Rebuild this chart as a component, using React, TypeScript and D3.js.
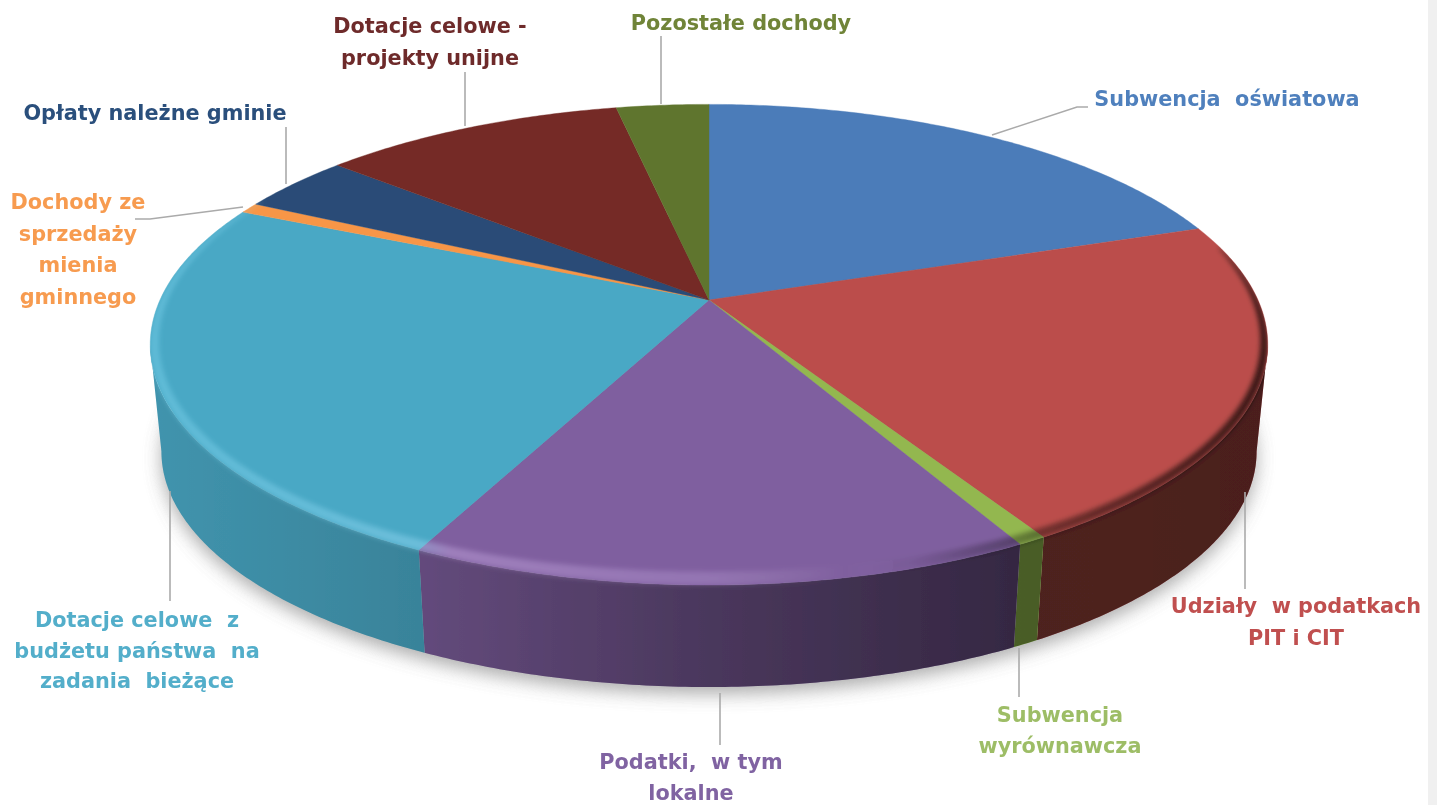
import React from 'react';
import * as d3 from 'd3';

// shares of the budget in percent, clockwise from 12 o'clock
const categories = [
  'Subwencja oświatowa',
  'Udziały w podatkach PIT i CIT',
  'Subwencja wyrównawcza',
  'Podatki, w tym lokalne',
  'Dotacje celowe z budżetu państwa na zadania bieżące',
  'Dochody ze sprzedaży mienia gminnego',
  'Opłaty należne gminie',
  'Dotacje celowe - projekty unijne',
  'Pozostałe dochody',
];
const values = [19.7, 21.7, 0.7, 15.1, 24.4, 0.7, 3.9, 10.5, 3.2];
const colors = ['#4b7cb9', '#bb4e4b', '#93b750', '#7f5f9f', '#49a8c5', '#f79646', '#2a4c77', '#742a25', '#5f752e'];
const sideColors = ['#4b7cb9', '#bb4e4b', '#adde5c', '#7f5f9f', '#49a8c5', '#f79646', '#2a4c77', '#742a25', '#5f752e'];
const labelColors = ['#4f80bd', '#c0504f', '#9dbd66', '#8064a2', '#52aeca', '#f79b50', '#2b4f7c', '#6e2c2c', '#6f8438'];

const labelLines = [
  ['Subwencja  oświatowa'],
  ['Udziały  w podatkach', 'PIT i CIT'],
  ['Subwencja', 'wyrównawcza'],
  ['Podatki,  w tym', 'lokalne'],
  ['Dotacje celowe  z', 'budżetu państwa  na', 'zadania  bieżące'],
  ['Dochody ze', 'sprzedaży', 'mienia', 'gminnego'],
  ['Opłaty należne gminie'],
  ['Dotacje celowe -', 'projekty unijne'],
  ['Pozostałe dochody'],
];

// layout: label centre x, first baseline, line step and the leader polyline
const labelLayout = [
  { x: 1227, y: 106, step: 0, leader: [[992, 135], [1077, 107], [1088, 107]] },
  { x: 1296, y: 613, step: 32, leader: [[1245, 492], [1245, 589]] },
  { x: 1060, y: 722, step: 31, leader: [[1019, 648], [1019, 697]] },
  { x: 691, y: 769, step: 31, leader: [[720, 693], [720, 745]] },
  { x: 137, y: 627, step: 30.5, leader: [[170, 491], [170, 601]] },
  { x: 78, y: 209, step: 31.7, leader: [[135, 219], [150, 219], [243, 207]] },
  { x: 155, y: 120, step: 0, leader: [[286, 127], [286, 184]] },
  { x: 430, y: 33, step: 32, leader: [[465, 72], [465, 126]] },
  { x: 741, y: 30, step: 0, leader: [[661, 36], [661, 104]] },
];

const width = 1437;
const height = 805;
const cx = 709;
const cy = 300;
const rx = 549;
const ry = 232;
const tilt = 0.186; // perspective of the disc
const depth = 107.7;
const bottomScale = 0.98;

// the wall is only seen between the two silhouette angles
const wallStart = Math.acos(-tilt);
const wallEnd = 2 * Math.PI - wallStart;

type Pt = [number, number];

function project(theta: number, r = 1, bottom = false): Pt {
  const u = Math.sin(theta) * r;
  const v = Math.cos(theta) * r;
  const w = 1 + tilt * v;
  const s = bottom ? bottomScale : 1;
  return [cx + (s * rx * u) / w, cy + (bottom ? depth : 0) - (s * ry * v) / w];
}

function sampleAngles(a0: number, a1: number): number[] {
  const n = Math.max(2, Math.ceil((a1 - a0) / 0.01));
  return d3.range(n + 1).map(i => a0 + ((a1 - a0) * i) / n);
}

const line = d3.line<Pt>().x(d => d[0]).y(d => d[1]);
const closed = (pts: Pt[]) => `${line(pts)}Z`;

const pie = d3.pie<number>().sort(null).startAngle(0).endAngle(2 * Math.PI);
const arcs = pie(values);

const topPath = (a0: number, a1: number) =>
  closed([[cx, cy] as Pt, ...sampleAngles(a0, a1).map(t => project(t))]);

const sidePath = (a0: number, a1: number) => {
  const from = Math.max(a0, wallStart);
  const to = Math.min(a1, wallEnd);
  if (to <= from) return '';
  const angles = sampleAngles(from, to);
  return closed([...angles.map(t => project(t)), ...angles.slice().reverse().map(t => project(t, 1, true))]);
};

// bevel along the front edge of the disc, tapered at both ends
const bevelStart = (76 * Math.PI) / 180;
const bevelEnd = (298 * Math.PI) / 180;
const bevelPath = () => {
  const angles = sampleAngles(bevelStart, bevelEnd);
  const inner = angles.map(t => {
    const [x, y] = project(t);
    const dist = Math.hypot(x - cx, y - cy);
    const phase = Math.sin((Math.PI * (t - bevelStart)) / (bevelEnd - bevelStart));
    const taper = Math.pow(Math.max(0, phase), 0.4);
    return project(t, 1 - (11 * taper) / dist);
  });
  return closed([...angles.map(t => project(t)), ...inner.reverse()]);
};

const fullOutline = (bottom: boolean) =>
  closed(sampleAngles(0, 2 * Math.PI).map(t => project(t, 1, bottom)));

const sideStops = [
  [0, 0.12],
  [0.24, 0.22],
  [0.5, 0.42],
  [0.77, 0.58],
  [1, 0.6],
];

const App = () => (
  <svg
    width={width}
    height={height}
    viewBox={`0 0 ${width} ${height}`}
    style={{ position: 'absolute', left: 0, top: 0, display: 'block', background: '#fff' }}
  >
    <defs>
      <filter id="soft" x="-5%" y="-5%" width="110%" height="110%">
        <feGaussianBlur stdDeviation="0.65" />
      </filter>
      <filter id="shadowBlur" x="-10%" y="-20%" width="120%" height="140%">
        <feGaussianBlur stdDeviation="9" />
      </filter>
      <filter id="bevelBlur" x="-5%" y="-5%" width="110%" height="110%">
        <feGaussianBlur stdDeviation="2.8" />
      </filter>
      <linearGradient id="sideShade" gradientUnits="userSpaceOnUse" x1={150} x2={1270} y1={0} y2={0}>
        {sideStops.map(([o, a]) => (
          <stop key={o} offset={o} stopColor="#000" stopOpacity={a} />
        ))}
      </linearGradient>
      <linearGradient id="bevelShade" gradientUnits="userSpaceOnUse" x1={150} x2={1270} y1={0} y2={0}>
        <stop offset={0} stopColor="#8fe6ff" stopOpacity={0.3} />
        <stop offset={0.24} stopColor="#a8e4ff" stopOpacity={0.36} />
        <stop offset={0.27} stopColor="#e6c8ff" stopOpacity={0.3} />
        <stop offset={0.5} stopColor="#e6c8ff" stopOpacity={0.2} />
        <stop offset={0.62} stopColor="#fff" stopOpacity={0} />
        <stop offset={0.68} stopColor="#000" stopOpacity={0.05} />
        <stop offset={0.8} stopColor="#000" stopOpacity={0.4} />
        <stop offset={1} stopColor="#000" stopOpacity={0.7} />
      </linearGradient>
      <clipPath id="discClip">
        <path d={fullOutline(false)} />
        {arcs.map((a, i) => (
          <path key={i} d={sidePath(a.startAngle, a.endAngle)} />
        ))}
      </clipPath>
    </defs>

    <rect x={1428} y={0} width={9} height={height} fill="#f0f0f0" />

    <g filter="url(#soft)">
      <path
        d={fullOutline(true)}
        transform="translate(0,7)"
        fill="#777"
        opacity={0.6}
        filter="url(#shadowBlur)"
      />

      {/* side wall */}
      {arcs.map((a, i) => (
        <g key={i}>
          <path d={sidePath(a.startAngle, a.endAngle)} fill={sideColors[i]} />
          <path d={sidePath(a.startAngle, a.endAngle)} fill="url(#sideShade)" />
        </g>
      ))}

      {/* top of the disc */}
      {arcs.map((a, i) => (
        <path key={i} d={topPath(a.startAngle, a.endAngle)} fill={colors[i]} stroke={colors[i]} strokeWidth={0.4} />
      ))}

      <g clipPath="url(#discClip)">
        <path d={bevelPath()} fill="url(#bevelShade)" filter="url(#bevelBlur)" />
      </g>

      {/* leaders */}
      {labelLayout.map((l, i) => (
        <path key={i} d={line(l.leader as Pt[]) ?? ''} fill="none" stroke="#aaa" strokeWidth={1.6} />
      ))}

      {/* labels */}
      {labelLines.map((lines, i) => (
        <text
          key={categories[i]}
          textAnchor="middle"
          fontFamily="'DejaVu Sans', sans-serif"
          fontWeight="bold"
          fontSize={20.8}
          fill={labelColors[i]}
          style={{ whiteSpace: 'pre' }}
        >
          {lines.map((t, j) => (
            <tspan key={j} x={labelLayout[i].x} y={labelLayout[i].y + j * labelLayout[i].step}>
              {t}
            </tspan>
          ))}
        </text>
      ))}
    </g>
  </svg>
);

export default App;
